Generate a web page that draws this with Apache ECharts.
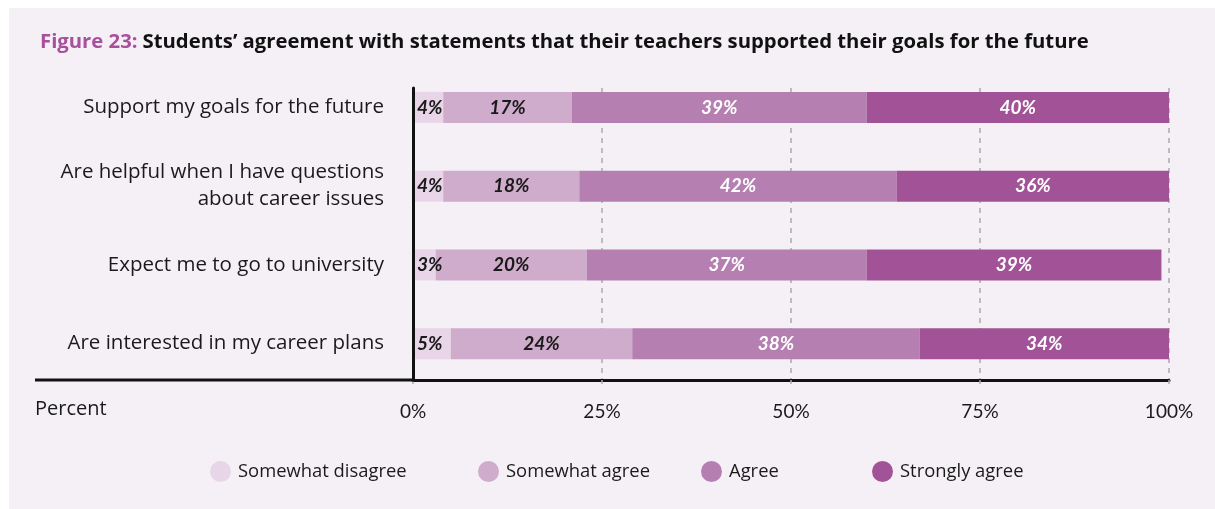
<!DOCTYPE html>
<html>
<head>
<meta charset="utf-8">
<script src="https://cdn.jsdelivr.net/npm/echarts@6/dist/echarts.min.js"></script>
<style>
  html, body { margin: 0; padding: 0; background: #ffffff; }
  #chart { width: 1215px; height: 509px; }
</style>
</head>
<body>
<div id="chart"></div>
<script>
// Survey statements (top to bottom)
const categories = [
  'Support my goals for the future',
  'Are helpful when I have questions\nabout career issues',
  'Expect me to go to university',
  'Are interested in my career plans'
];

// Response levels, in stacking order
const levels = ['Somewhat disagree', 'Somewhat agree', 'Agree', 'Strongly agree'];

// Percent of students per response level
const somewhatDisagree = [4, 4, 3, 5];
const somewhatAgree    = [17, 18, 20, 24];
const agree            = [39, 42, 37, 38];
const stronglyAgree    = [40, 36, 39, 34];

// Percent axis
const axisMin = 0;
const axisMax = 100;
const axisStep = 25;

const levelValues = [somewhatDisagree, somewhatAgree, agree, stronglyAgree];
const levelColors = ['#e8d6e8', '#cfabcc', '#b67fb1', '#a25296'];
const labelColors = ['#1a1a1a', '#1a1a1a', '#ffffff', '#ffffff'];
const legendLeft = [205, 473, 696, 867];

const textFont = 'Open Sans';

const chart = echarts.init(document.getElementById('chart'), null, { renderer: 'canvas' });

const option = {
  backgroundColor: '#ffffff',
  animation: false,
  title: {
    left: 35,
    top: 27,
    text: '{a|Figure 23:} {b|Students\u2019 agreement with statements that their teachers supported their goals for the future}',
    textStyle: {
      rich: {
        a: { fontFamily: textFont, fontWeight: 'bold', fontSize: 20.3, color: '#a9509c' },
        b: { fontFamily: textFont, fontWeight: 'bold', fontSize: 20.3, color: '#111111' }
      }
    }
  },
  legend: levels.map((name, i) => ({
    data: [name],
    left: legendLeft[i],
    top: 456,
    icon: 'circle',
    itemWidth: 21,
    itemHeight: 21,
    itemGap: 0,
    selectedMode: false,
    textStyle: { fontFamily: textFont, fontSize: 18.4, color: '#1a1a1a', padding: [0, 0, 0, 2] }
  })),
  graphic: [
    {
      type: 'rect', z: -10, silent: true,
      shape: { x: 9, y: 8, width: 1206, height: 501 },
      style: { fill: '#f4f0f6' }
    },
    {
      type: 'line', z: 10, silent: true,
      shape: { x1: 35, y1: 380, x2: 414, y2: 380 },
      style: { stroke: '#111111', lineWidth: 3 }
    },
    {
      type: 'text', z: 10, silent: true,
      left: 35, top: 399,
      style: { text: 'Percent', fontFamily: textFont, fontSize: 20, fill: '#1a1a1a' }
    }
  ],
  grid: [
    // bars and statement labels
    { left: 413, right: 46, top: 68, height: 315, containLabel: false },
    // percent axis, gridlines and zero line
    { left: 413, right: 46, top: 88, bottom: 129, containLabel: false }
  ],
  xAxis: [
    { gridIndex: 0, type: 'value', min: axisMin, max: axisMax, interval: axisStep, show: false },
    {
      gridIndex: 1, type: 'value', min: axisMin, max: axisMax, interval: axisStep,
      axisLine: { show: true, lineStyle: { color: '#111111', width: 3 } },
      axisTick: { show: true, length: 4, lineStyle: { color: '#aaaaaa', width: 1.5 } },
      axisLabel: {
        formatter: '{value}%', margin: 22,
        fontFamily: 'Lato', fontSize: 19, color: '#1a1a1a'
      },
      splitLine: { show: true, lineStyle: { color: '#aaaaaa', width: 1.5, type: [5, 5] } }
    }
  ],
  yAxis: [
    {
      gridIndex: 0, type: 'category', data: categories, inverse: true,
      axisLine: { show: false }, axisTick: { show: false }, splitLine: { show: false },
      axisLabel: {
        margin: 29, align: 'right', lineHeight: 27,
        fontFamily: textFont, fontSize: 20.5, color: '#1a1a1a'
      }
    },
    {
      gridIndex: 1, type: 'category', data: [''], z: 5,
      axisLine: { show: true, lineStyle: { color: '#111111', width: 3 } },
      axisTick: { show: false }, axisLabel: { show: false }, splitLine: { show: false }
    }
  ],
  series: levels.map((name, i) => ({
    name: name,
    type: 'bar',
    stack: 'total',
    xAxisIndex: 0,
    yAxisIndex: 0,
    barWidth: 31,
    data: levelValues[i],
    itemStyle: { color: levelColors[i] },
    label: {
      show: true,
      // the narrow first segment keeps its label just right of the zero line
      position: i === 0 ? 'insideLeft' : 'inside',
      distance: 4,
      formatter: '{c}%',
      fontFamily: 'Lato',
      fontStyle: 'italic',
      fontWeight: 'bold',
      fontSize: 19,
      color: labelColors[i]
    }
  }))
};

chart.setOption(option);
</script>
</body>
</html>
